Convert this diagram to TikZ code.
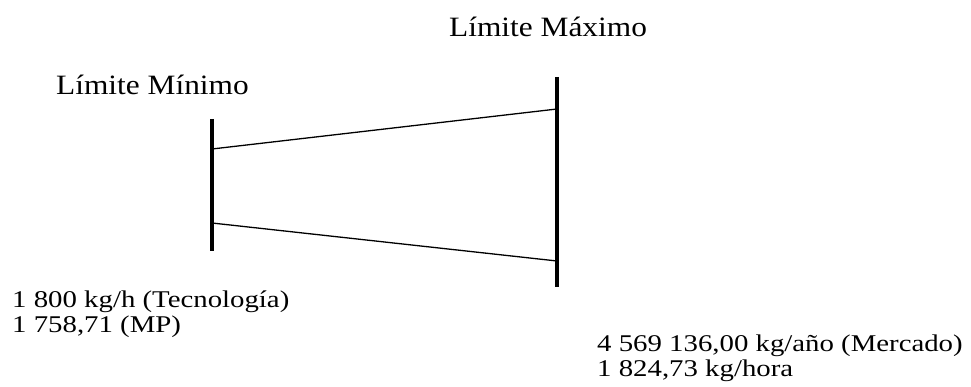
\documentclass[tikz,border=0pt]{standalone}
\usepackage{fontspec}
\setmainfont[FakeStretch=1.2]{Liberation Serif}
\newfontfamily\headfont[FakeStretch=1.12]{Liberation Serif}
\usepackage{tikz}
\usetikzlibrary{positioning}

\begin{document}
\begin{tikzpicture}[
  x=1pt, y=-1pt,
  limit/.style={line width=4pt},
  edge/.style={line width=1.3pt},
  lbl/.style={font=\fontsize{24}{24.5}\selectfont, align=left, inner sep=0pt, anchor=base west},
  head/.style={lbl, font=\headfont\fontsize{28}{30}\selectfont},
]
\useasboundingbox (0,0) rectangle (971,387);

% bars
\coordinate (minT) at (212,119);
\coordinate (minB) at (212,251);
\coordinate (maxT) at (557,77);
\coordinate (maxB) at (557,287);
\draw[limit] (minT) -- (minB);
\draw[limit] (maxT) -- (maxB);

% where the lines meet the bars
\coordinate (minU) at (212,149);
\coordinate (minL) at (212,223);
\coordinate (maxU) at (557,109);
\coordinate (maxL) at (557,261);
\draw[edge] (minU) -- (maxU);
\draw[edge] (minL) -- (maxL);

\node[head] (tmax) at (449,37) {Límite Máximo};
\node[head] (tmin) at (56,95)  {Límite Mínimo};
\node[lbl] (vmin) at (12,332) {1 800 kg/h (Tecnología)\\1 758,71 (MP)};
\node[lbl] (vmax) at (597,376) {4 569 136,00 kg/año (Mercado)\\1 824,73 kg/hora};
\end{tikzpicture}
\end{document}
